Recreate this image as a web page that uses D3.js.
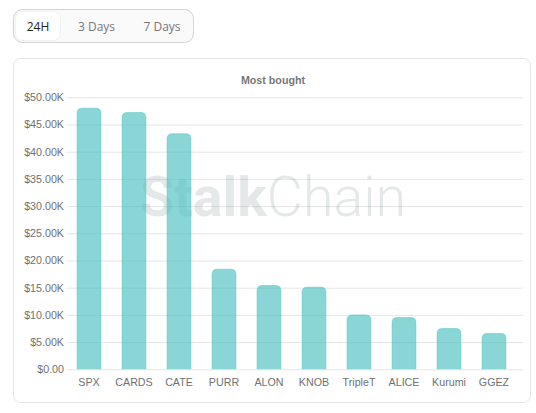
<!DOCTYPE html>
<html>
<head>
<meta charset="utf-8">
<script src="https://cdn.jsdelivr.net/npm/d3@7"></script>
<style>
html, body { margin: 0; padding: 0; background: #fff; }
svg { display: block; }
.tab { font-family: "Open Sans", sans-serif; font-size: 12px; }
.axis text { font-family: "Liberation Sans", Arial, sans-serif; font-size: 10.7px; fill: #707070; }
.axis path { display: none; }
.axis line { stroke: #e6e6e6; }
</style>
</head>
<body>
<div id="chart"></div>
<script>
var tabs = ["24H", "3 Days", "7 Days"];
var categories = ["SPX", "CARDS", "CATE", "PURR", "ALON", "KNOB", "TripleT", "ALICE", "Kurumi", "GGEZ"];
var values = [48000, 47200, 43300, 18400, 15400, 15100, 10000, 9500, 7500, 6600];
var yTicks = [0, 5000, 10000, 15000, 20000, 25000, 30000, 35000, 40000, 45000, 50000];

var width = 536, height = 413;

var svg = d3.select("#chart").append("svg")
	.attr("width", width)
	.attr("height", height);

// tab switcher
svg.append("rect")
	.attr("x", 13.5).attr("y", 9.5)
	.attr("width", 180).attr("height", 33)
	.attr("rx", 9)
	.attr("fill", "#fafafa")
	.attr("stroke", "#d4d4d4");

svg.append("rect")
	.attr("x", 15.5).attr("y", 11.5)
	.attr("width", 45).attr("height", 29)
	.attr("rx", 7)
	.attr("fill", "#fff")
	.attr("stroke", "#f1f1f1");

var tabX = [38, 96.5, 162];
svg.selectAll(".tab")
	.data(tabs)
	.enter().append("text")
	.attr("class", "tab")
	.attr("x", function(d, i) { return tabX[i]; })
	.attr("y", 31)
	.attr("text-anchor", "middle")
	.attr("fill", function(d, i) { return i === 0 ? "#222" : "#777"; })
	.text(function(d) { return d; });

// card
svg.append("rect")
	.attr("x", 13.5).attr("y", 58.5)
	.attr("width", 517).attr("height", 344)
	.attr("rx", 7)
	.attr("fill", "#fff")
	.attr("stroke", "#e6e6e6");

var x = d3.scaleBand()
	.domain(categories)
	.range([66.5, 516.5])
	.paddingInner(0.47)
	.paddingOuter(0.235);

var y = d3.scaleLinear()
	.domain([0, 50000])
	.range([369.3, 97.3]);

// gridlines and value labels
var yAxis = d3.axisLeft(y)
	.tickValues(yTicks)
	.tickSize(-456)
	.tickPadding(3)
	.tickFormat(function(d) { return d === 0 ? "$0.00" : "$" + (d / 1000).toFixed(2) + "K"; });

svg.append("g")
	.attr("class", "axis")
	.attr("transform", "translate(67,0)")
	.call(yAxis);

// watermark
var mark = svg.append("text")
	.attr("x", 273)
	.attr("y", 216)
	.attr("text-anchor", "middle")
	.attr("font-family", "Roboto, sans-serif")
	.attr("font-size", 55.5)
	.attr("fill", "#7f8c8d")
	.attr("fill-opacity", 0.2);
mark.append("tspan").attr("font-weight", 700).text("Stalk");
mark.append("tspan").attr("font-weight", 300).text("Chain");

svg.append("text")
	.attr("x", 273)
	.attr("y", 84)
	.attr("text-anchor", "middle")
	.attr("font-family", "Liberation Sans, Arial, sans-serif")
	.attr("font-size", 10.7)
	.attr("font-weight", 700)
	.attr("fill", "#777")
	.text("Most bought");

// bars
function barPath(d) {
	var x0 = x(d.name), w = x.bandwidth(), top = y(d.value), bottom = y(0), r = 5;
	return "M" + x0 + "," + bottom +
		"V" + (top + r) +
		"Q" + x0 + "," + top + " " + (x0 + r) + "," + top +
		"H" + (x0 + w - r) +
		"Q" + (x0 + w) + "," + top + " " + (x0 + w) + "," + (top + r) +
		"V" + bottom;
}

svg.selectAll(".bar")
	.data(categories.map(function(c, i) { return { name: c, value: values[i] }; }))
	.enter().append("path")
	.attr("class", "bar")
	.attr("d", barPath)
	.attr("fill", "#4bc0c0")
	.attr("fill-opacity", 0.65)
	.attr("stroke", "#4bc0c0")
	.attr("stroke-opacity", 0.45)
	.attr("stroke-width", 1);

// category labels
var xAxis = d3.axisBottom(x).tickSize(0).tickPadding(9);
svg.append("g")
	.attr("class", "axis")
	.attr("transform", "translate(0,369.3)")
	.call(xAxis);
</script>
</body>
</html>
